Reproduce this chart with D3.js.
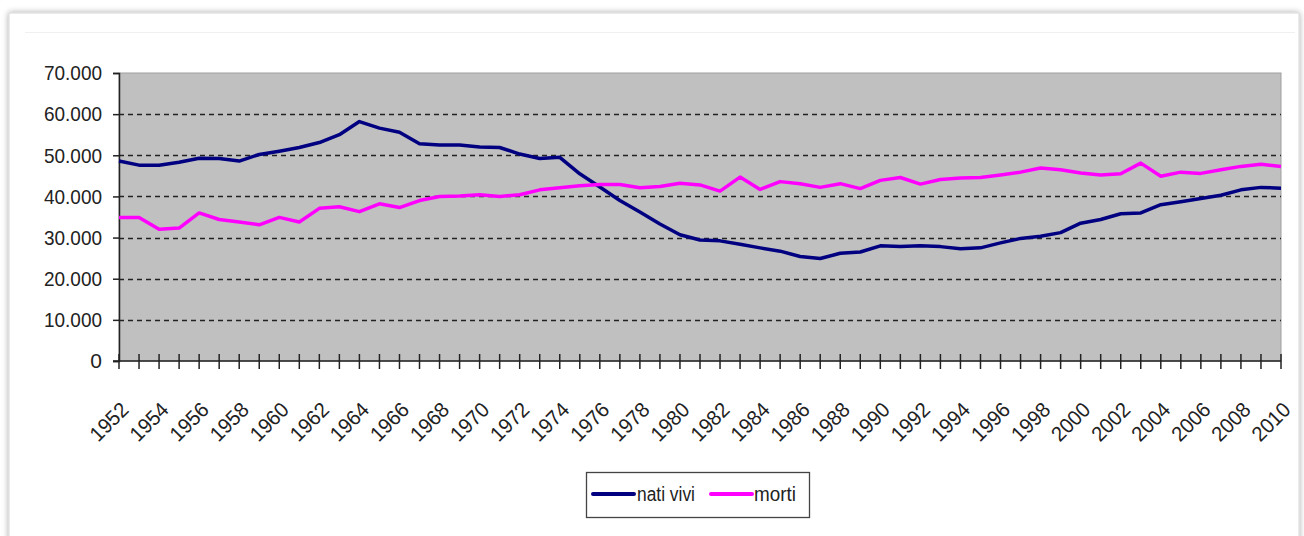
<!DOCTYPE html>
<html>
<head>
<meta charset="utf-8">
<script src="https://cdn.jsdelivr.net/npm/d3@7/dist/d3.min.js"></script>
<style>
  body { margin: 0; background: #fff; }
  text { font-family: "Liberation Sans", Arial, sans-serif; fill: #222; }
</style>
</head>
<body>
<script>
// data
const years = [1952, 1953, 1954, 1955, 1956, 1957, 1958, 1959, 1960, 1961,
  1962, 1963, 1964, 1965, 1966, 1967, 1968, 1969, 1970, 1971,
  1972, 1973, 1974, 1975, 1976, 1977, 1978, 1979, 1980, 1981,
  1982, 1983, 1984, 1985, 1986, 1987, 1988, 1989, 1990, 1991,
  1992, 1993, 1994, 1995, 1996, 1997, 1998, 1999, 2000, 2001,
  2002, 2003, 2004, 2005, 2006, 2007, 2008, 2009, 2010]

const natiVivi = [48600, 47600, 47600, 48300, 49300, 49200, 48600, 50200, 51000, 51900,
  53100, 55000, 58200, 56600, 55600, 52800, 52500, 52500, 52000, 51900,
  50300, 49200, 49500, 45500, 42300, 39000, 36200, 33300, 30700, 29400,
  29200, 28400, 27500, 26700, 25400, 24900, 26200, 26500, 28000, 27800,
  28000, 27800, 27300, 27500, 28700, 29800, 30300, 31200, 33500, 34400,
  35800, 36000, 38000, 38700, 39500, 40300, 41600, 42200, 42000]

const morti = [34900, 34900, 32000, 32300, 36000, 34400, 33800, 33100, 34900, 33800,
  37100, 37500, 36300, 38200, 37300, 39000, 40000, 40100, 40400, 40000,
  40400, 41600, 42100, 42600, 42900, 42900, 42100, 42400, 43200, 42800,
  41300, 44700, 41700, 43600, 43100, 42200, 43100, 41900, 43900, 44600,
  43000, 44100, 44500, 44600, 45200, 45900, 46900, 46500, 45700, 45200,
  45500, 48100, 44900, 45900, 45600, 46500, 47300, 47800, 47300]

const yTicks = [0, 10000, 20000, 30000, 40000, 50000, 60000, 70000]
const xLabels = years.filter(y => (y - 1952) % 2 === 0)

const series = [
  { name: "nati vivi", values: natiVivi, color: "#000080" },
  { name: "morti", values: morti, color: "#ff00ff" }
]

const width = 1304, height = 536
const plot = { left: 119, right: 1281, top: 73, bottom: 361 }

let svg = d3.select("body").append("svg")
  .attr("width", width)
  .attr("height", height)

// outer frame with soft shadow
let defs = svg.append("defs")
let f = defs.append("filter").attr("id", "shadow")
  .attr("x", "-5%").attr("y", "-5%").attr("width", "110%").attr("height", "110%")
f.append("feGaussianBlur").attr("in", "SourceAlpha").attr("stdDeviation", 3)
f.append("feComponentTransfer").append("feFuncA").attr("type", "linear").attr("slope", 0.35)
let m = f.append("feMerge")
m.append("feMergeNode")
m.append("feMergeNode").attr("in", "SourceGraphic")

svg.append("rect")
  .attr("x", 9).attr("y", 13)
  .attr("width", 1290).attr("height", 540)
  .attr("fill", "#fff")
  .attr("stroke", "#d8d8d8")
  .attr("filter", "url(#shadow)")

svg.append("line")
  .attr("x1", 25).attr("x2", 1295)
  .attr("y1", 32.5).attr("y2", 32.5)
  .attr("stroke", "#f0f0f0")

let x = d3.scaleLinear().domain([1952, 2010]).range([plot.left, plot.right])
let y = d3.scaleLinear().domain([0, 70000]).range([plot.bottom, plot.top])

// plot background
svg.append("rect")
  .attr("x", plot.left).attr("y", plot.top)
  .attr("width", plot.right - plot.left).attr("height", plot.bottom - plot.top)
  .attr("fill", "#c0c0c0")
  .attr("stroke", "#a0a0a0")

// gridlines
svg.append("g")
  .selectAll("line")
  .data(yTicks.filter(d => d > 0 && d < 70000))
  .enter()
  .append("line")
    .attr("x1", plot.left).attr("x2", plot.right)
    .attr("y1", d => Math.round(y(d)) + 0.5).attr("y2", d => Math.round(y(d)) + 0.5)
    .attr("stroke", "#222")
    .attr("stroke-width", 1.3)
    .attr("stroke-dasharray", "5,4")

// y axis
let yAxis = d3.axisLeft(y)
  .tickValues(yTicks)
  .tickSize(6)
  .tickPadding(11)
  .tickFormat(d => d === 0 ? "0" : d3.format(",")(d).replace(/,/g, "."))

let gy = svg.append("g")
  .attr("transform", `translate(${plot.left},0)`)
  .call(yAxis)
gy.select(".domain").attr("stroke", "#222").attr("stroke-width", 1.5)
gy.selectAll(".tick line").attr("stroke", "#222").attr("stroke-width", 1.5)
gy.selectAll("text")
  .attr("font-size", 21)
  .attr("fill", "#222")
  .attr("font-family", "Liberation Sans, Arial, sans-serif")
  .attr("textLength", function(d) { return d === 0 ? null : 58 })
  .attr("lengthAdjust", "spacingAndGlyphs")

// x axis with cross ticks
let gx = svg.append("g")
gx.append("line")
  .attr("x1", plot.left - 6).attr("x2", plot.right)
  .attr("y1", plot.bottom).attr("y2", plot.bottom)
  .attr("stroke", "#222").attr("stroke-width", 1.5)
gx.selectAll(".xt")
  .data(years)
  .enter()
  .append("line")
    .attr("class", "xt")
    .attr("x1", d => x(d)).attr("x2", d => x(d))
    .attr("y1", plot.bottom - 7).attr("y2", plot.bottom + 8)
    .attr("stroke", "#222").attr("stroke-width", 1.5)

gx.selectAll(".xl")
  .data(xLabels)
  .enter()
  .append("text")
    .attr("class", "xl")
    .attr("text-anchor", "end")
    .attr("font-size", 21)
    .attr("transform", d => `translate(${x(d) + 11},${plot.bottom + 50}) rotate(-45)`)
    .attr("textLength", 45)
    .attr("lengthAdjust", "spacingAndGlyphs")
    .text(d => d)

// lines
let line = d3.line()
  .x((d, i) => x(years[i]))
  .y(d => y(d))

svg.append("g")
  .selectAll("path")
  .data(series)
  .enter()
  .append("path")
    .attr("d", d => line(d.values))
    .attr("fill", "none")
    .attr("stroke", d => d.color)
    .attr("stroke-width", 3.5)
    .attr("stroke-linejoin", "round")

// legend
let legend = svg.append("g").attr("transform", "translate(586,472)")
legend.append("rect")
  .attr("x", 0.5).attr("y", 0.5)
  .attr("width", 223).attr("height", 45)
  .attr("fill", "#fff")
  .attr("stroke", "#444")
  .attr("stroke-width", 1.3)

let items = [
  { s: series[0], lx: 7, tx: 51 },
  { s: series[1], lx: 125, tx: 168 }
]
items.forEach(it => {
  legend.append("line")
    .attr("x1", it.lx).attr("x2", it.lx + 41)
    .attr("y1", 22).attr("y2", 22)
    .attr("stroke", it.s.color)
    .attr("stroke-width", 4)
    .attr("stroke-linecap", "round")
  legend.append("text")
    .attr("x", it.tx).attr("y", 29)
    .attr("font-size", 20)
    .attr("textLength", it.s.name === "morti" ? 42 : 58)
    .attr("lengthAdjust", "spacingAndGlyphs")
    .text(it.s.name)
})
</script>
</body>
</html>
